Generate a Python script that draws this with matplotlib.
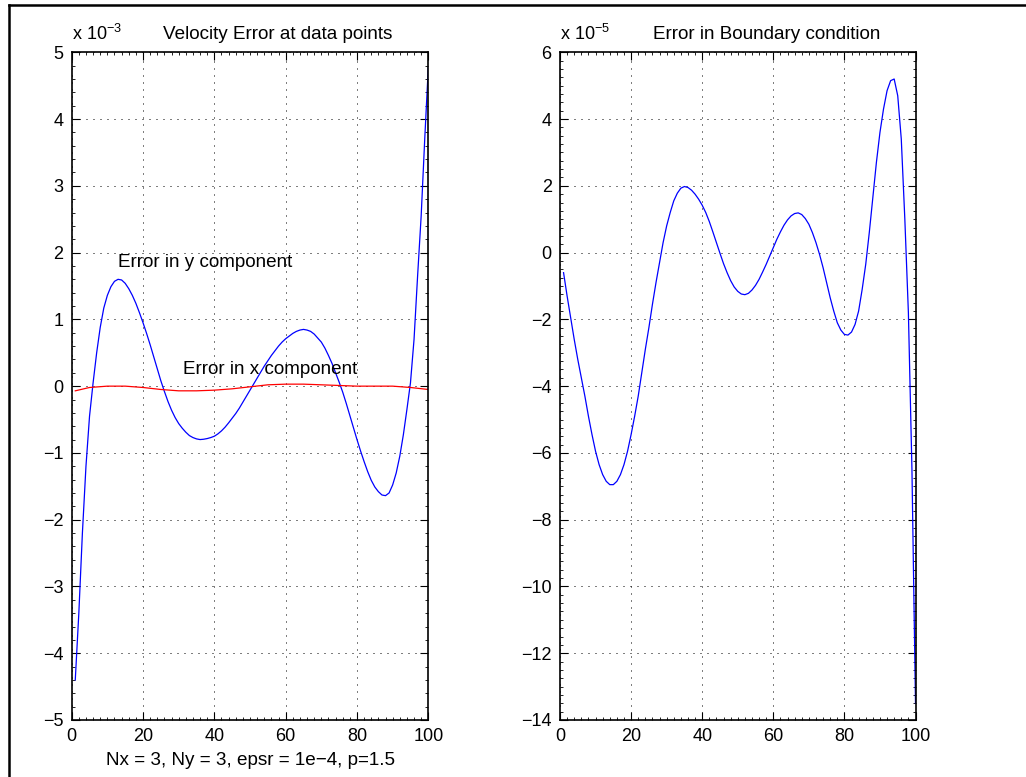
import numpy as np
import matplotlib
matplotlib.use('Agg')
import matplotlib.pyplot as plt
from matplotlib.ticker import AutoMinorLocator, MultipleLocator
from matplotlib.lines import Line2D

plt.rcParams['font.family'] = ['Liberation Sans', 'DejaVu Sans']
plt.rcParams['mathtext.fontset'] = 'custom'
plt.rcParams['mathtext.rm'] = 'Liberation Sans'
plt.rcParams['font.size'] = 13

# left panel, velocity error at data points (units of 1e-3)
vy_x = list(range(1, 101))
vy_err = [-4.4, -3.4, -2.2, -1.2, -0.45, 0.05, 0.5, 0.88, 1.17, 1.36,
          1.49, 1.57, 1.6, 1.59, 1.54, 1.46, 1.36, 1.24, 1.1, 0.95,
          0.79, 0.62, 0.44, 0.26, 0.08, -0.08, -0.23, -0.36, -0.47, -0.56,
          -0.63, -0.69, -0.74, -0.77, -0.79, -0.8, -0.795, -0.785, -0.77, -0.75,
          -0.715, -0.67, -0.615, -0.55, -0.48, -0.41, -0.33, -0.24, -0.15, -0.06,
          0.03, 0.12, 0.21, 0.3, 0.38, 0.46, 0.53, 0.6, 0.66, 0.71,
          0.75, 0.79, 0.82, 0.84, 0.85, 0.84, 0.82, 0.78, 0.72, 0.66,
          0.57, 0.46, 0.34, 0.2, 0.06, -0.09, -0.26, -0.44, -0.62, -0.8,
          -0.97, -1.13, -1.28, -1.41, -1.51, -1.58, -1.63, -1.64, -1.6, -1.48,
          -1.3, -1.05, -0.73, -0.35, 0.05, 0.7, 1.65, 2.55, 3.7, 4.77]
vx_x = [1, 5, 10, 15, 20, 25, 30, 35, 40, 45, 50, 55, 60, 65, 70, 75, 80, 85,
        90, 95, 100]
vx_err = [-0.07, -0.02, 0.0, 0.0, -0.02, -0.05, -0.07, -0.07, -0.06, -0.04,
          -0.01, 0.02, 0.03, 0.03, 0.02, 0.01, 0.0, 0.0, 0.0, -0.02, -0.05]

# right panel, error in boundary condition (units of 1e-5)
bc_x = list(range(1, 101))
bc_err = [-0.6, -1.3, -1.95, -2.6, -3.2, -3.75, -4.3, -4.9, -5.45, -5.95,
          -6.35, -6.65, -6.85, -6.95, -6.95, -6.85, -6.65, -6.35, -5.95, -5.45,
          -4.9, -4.3, -3.6, -2.9, -2.25, -1.55, -0.9, -0.3, 0.3, 0.8,
          1.2, 1.55, 1.78, 1.93, 1.98, 1.95, 1.87, 1.75, 1.6, 1.42,
          1.2, 0.93, 0.62, 0.3, -0.02, -0.33, -0.6, -0.84, -1.03, -1.16,
          -1.24, -1.26, -1.22, -1.12, -0.98, -0.8, -0.58, -0.35, -0.1, 0.15,
          0.4, 0.62, 0.82, 0.98, 1.1, 1.17, 1.19, 1.14, 1.02, 0.85,
          0.6, 0.3, -0.05, -0.45, -0.9, -1.35, -1.75, -2.1, -2.32, -2.45,
          -2.47, -2.38, -2.15, -1.75, -1.1, -0.35, 0.6, 1.65, 2.7, 3.6,
          4.3, 4.85, 5.15, 5.2, 4.7, 3.4, 1.0, -1.8, -6.5, -13.5]

W, H = 1026, 777
fig = plt.figure(figsize=(W / 100, H / 100), dpi=100)
ax1 = fig.add_axes([71.7 / W, 1 - 720 / H, 356.6 / W, 667.7 / H])
ax2 = fig.add_axes([560 / W, 1 - 720 / H, 355.5 / W, 667.7 / H])


def style(ax, ystep, ynminor):
    ax.set_xlim(0, 100)
    ax.xaxis.set_major_locator(MultipleLocator(20))
    ax.yaxis.set_major_locator(MultipleLocator(ystep))
    ax.xaxis.set_minor_locator(AutoMinorLocator(10))
    ax.yaxis.set_minor_locator(AutoMinorLocator(ynminor))
    ax.tick_params(which='both', direction='in', top=True, right=True)
    ax.tick_params(which='major', length=5.5, width=0.8, pad=6)
    ax.tick_params(which='minor', length=2.5, width=0.6)
    ax.grid(True, which='major', color='black', linestyle=(0, (1, 6)),
            linewidth=0.72)
    ax.set_axisbelow(True)
    for s in ax.spines.values():
        s.set_linewidth(1.2)


fs = 13.6
ax1.plot(vy_x, vy_err, color='blue', lw=0.9)
ax1.plot(vx_x, vx_err, color='red', lw=0.9)
ax1.set_ylim(-5, 5)
style(ax1, 1, 5)
ax1.text(13.0, 1.79, 'Error in y component', ha='left', va='baseline',
         fontsize=fs)
ax1.text(31.2, 0.18, 'Error in x component', ha='left', va='baseline',
         fontsize=fs)
ax1.text(0.578, 1 + 13 / 667.7, 'Velocity Error at data points',
         transform=ax1.transAxes, ha='center', va='baseline', fontsize=fs)
ax1.text(0.0, 1 + 12 / 667.7, r'x 10$^{-3}$', transform=ax1.transAxes,
         ha='left', va='baseline')
ax1.text(0.5, -45 / 667.7, 'Nx = 3, Ny = 3, epsr = 1e\u22124, p=1.5',
         transform=ax1.transAxes, ha='center', va='baseline', fontsize=fs)

ax2.plot(bc_x, bc_err, color='blue', lw=0.9)
ax2.set_ylim(-14, 6)
style(ax2, 2, 8)
ax2.text(0.580, 1 + 13 / 667.7, 'Error in Boundary condition',
         transform=ax2.transAxes, ha='center', va='baseline', fontsize=fs)
ax2.text(0.0, 1 + 12 / 667.7, r'x 10$^{-5}$', transform=ax2.transAxes,
         ha='left', va='baseline')

# frame around the figure (top and left edges visible)
fig.add_artist(Line2D([9 / W, 1], [1 - 5 / H, 1 - 5 / H],
                      transform=fig.transFigure, color='black', lw=1.8))
fig.add_artist(Line2D([9 / W, 9 / W], [0, 1 - 5 / H],
                      transform=fig.transFigure, color='black', lw=1.8))

fig.savefig('out.png', dpi=100)
